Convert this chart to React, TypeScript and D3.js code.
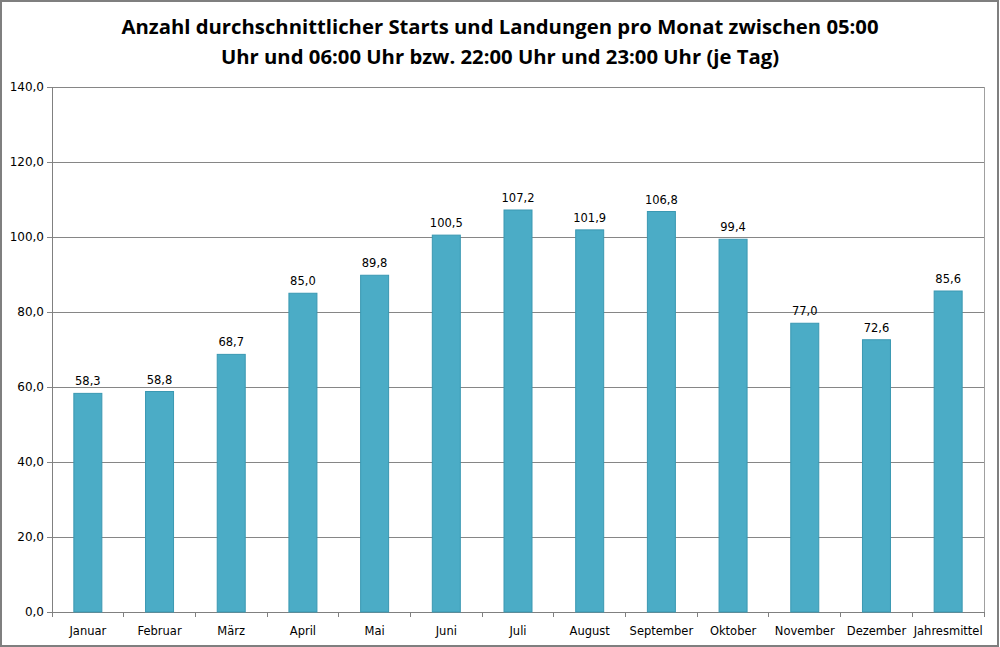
import React, { useEffect, useRef } from "react";
import * as d3 from "d3";

const months = [
  "Januar", "Februar", "März", "April", "Mai", "Juni", "Juli",
  "August", "September", "Oktober", "November", "Dezember", "Jahresmittel",
];
const values = [58.3, 58.8, 68.7, 85.0, 89.8, 100.5, 107.2, 101.9, 106.8, 99.4, 77.0, 72.6, 85.6];
const yTicks = [0, 20, 40, 60, 80, 100, 120, 140];
const titleLines = [
  "Anzahl durchschnittlicher Starts und Landungen pro Monat zwischen 05:00",
  "Uhr und 06:00 Uhr bzw. 22:00 Uhr und 23:00 Uhr (je Tag)",
];

const W = 1000;
const H = 647;

const fmt = (v: number) => v.toFixed(1).replace(".", ",");

const App = () => {
  const svgRef = useRef<SVGSVGElement | null>(null);

  useEffect(() => {
    document.body.style.margin = "0";
    const svg = d3.select(svgRef.current);
    svg.selectAll("*").remove();

    const left = 52, right = 984, top = 87, bottom = 612;

    // outer frame
    svg.append("rect")
      .attr("x", 1).attr("y", 1).attr("width", W - 3).attr("height", H - 2)
      .attr("fill", "white").attr("stroke", "#7f7f7f").attr("stroke-width", 2);

    // title
    const title = svg.append("text")
      .attr("text-anchor", "middle")
      .attr("font-family", "'Open Sans', sans-serif")
      .attr("font-weight", "bold")
      .attr("font-size", 20.3)
      .attr("fill", "#000");
    titleLines.forEach((t, i) => {
      title.append("tspan").attr("x", 500).attr("y", 34 + i * 30).text(t);
    });

    const x = d3.scaleBand().domain(months).range([left, right]);
    const y = d3.scaleLinear().domain([0, 140]).range([bottom, top]);

    // gridlines
    svg.append("g").selectAll("line")
      .data(yTicks)
      .join("line")
      .attr("x1", left - 5).attr("x2", right)
      .attr("y1", (d) => y(d)).attr("y2", (d) => y(d))
      .attr("stroke", (d) => (d === 0 ? "#808080" : "#868686"))
      .attr("stroke-width", 1)
      .attr("shape-rendering", "crispEdges");

    // plot border right
    svg.append("line")
      .attr("x1", right).attr("x2", right).attr("y1", top).attr("y2", bottom + 5)
      .attr("stroke", "#a0a0a0").attr("shape-rendering", "crispEdges");

    // y axis
    svg.append("line")
      .attr("x1", left).attr("x2", left).attr("y1", top).attr("y2", bottom + 5)
      .attr("stroke", "#808080").attr("shape-rendering", "crispEdges");

    svg.append("g").selectAll("text")
      .data(yTicks)
      .join("text")
      .attr("x", left - 8)
      .attr("y", (d) => y(d) + 4)
      .attr("text-anchor", "end")
      .attr("font-family", "'DejaVu Sans', sans-serif")
      .attr("font-size", 12)
      .attr("fill", "#000")
      .text((d) => fmt(d));

    // category tick marks
    svg.append("g").selectAll("line")
      .data(months)
      .join("line")
      .attr("x1", (d) => x(d)! + x.bandwidth())
      .attr("x2", (d) => x(d)! + x.bandwidth())
      .attr("y1", bottom).attr("y2", bottom + 5)
      .attr("stroke", "#808080").attr("shape-rendering", "crispEdges");

    // bars
    const bw = 28;
    svg.append("g").selectAll("rect")
      .data(values)
      .join("rect")
      .attr("x", (d, i) => x(months[i])! + x.bandwidth() / 2 - bw / 2)
      .attr("y", (d) => y(d))
      .attr("width", bw)
      .attr("height", (d) => bottom - y(d))
      .attr("fill", "#4bacc6")
      .attr("stroke", "#3a98b2")
      .attr("stroke-width", 1);

    // value labels
    svg.append("g").selectAll("text")
      .data(values)
      .join("text")
      .attr("x", (d, i) => x(months[i])! + x.bandwidth() / 2)
      .attr("y", (d) => y(d) - 8)
      .attr("text-anchor", "middle")
      .attr("font-family", "'DejaVu Sans', sans-serif")
      .attr("font-size", 11.5)
      .attr("fill", "#000")
      .text((d) => fmt(d));

    // category labels
    svg.append("g").selectAll("text")
      .data(months)
      .join("text")
      .attr("x", (d) => x(d)! + x.bandwidth() / 2)
      .attr("y", 635)
      .attr("text-anchor", "middle")
      .attr("font-family", "'DejaVu Sans', sans-serif")
      .attr("font-size", 11.5)
      .attr("fill", "#000")
      .text((d) => d);
  }, []);

  return <svg ref={svgRef} width={W} height={H} style={{ display: "block" }}></svg>;
};

export default App;
